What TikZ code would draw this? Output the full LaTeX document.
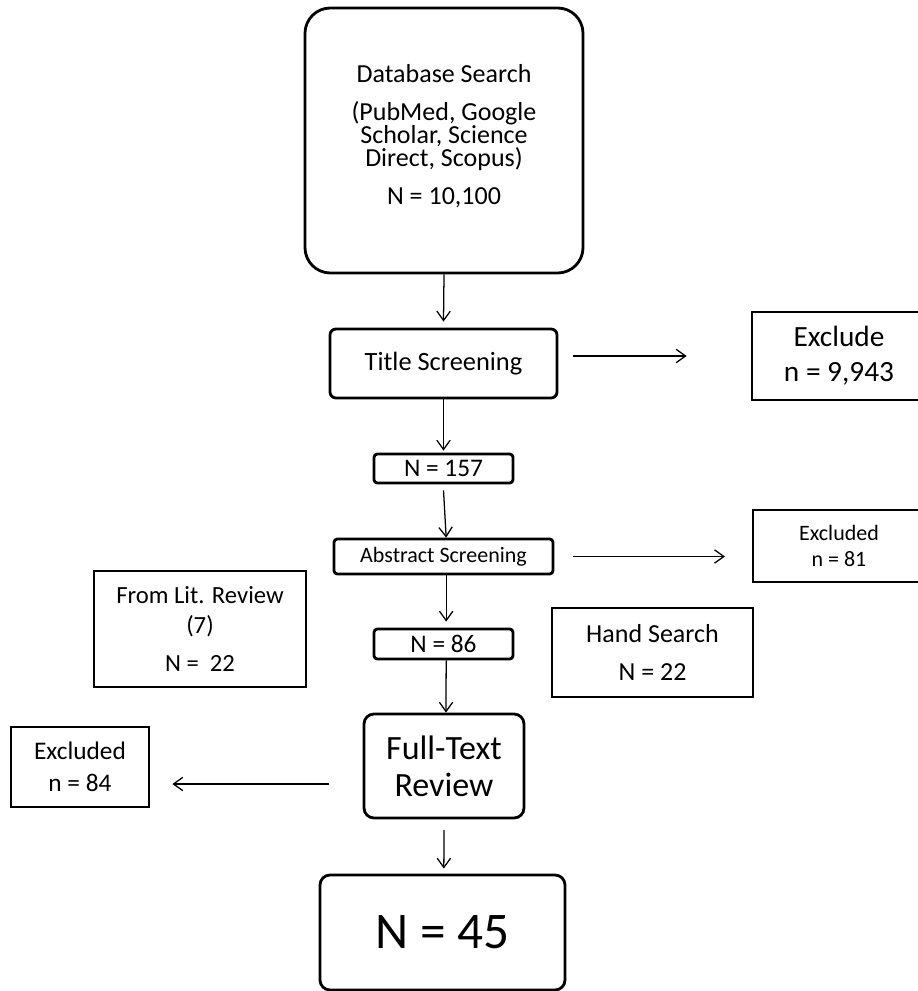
\documentclass[tikz,border=0pt]{standalone}
\usepackage{fontspec}
\setmainfont{Carlito}
\usetikzlibrary{arrows.meta}
\newlength\px
\setlength\px{0.75pt}
\newcommand\fsz[2]{\fontsize{#1pt}{#2pt}\selectfont}
\tikzset{
  x=0.75pt, y=-0.75pt,
  rbox/.style={draw, line width=2.1pt, align=center, inner sep=0pt},
  sbox/.style={draw, line width=2.1pt, align=center, inner sep=0pt},
  arr/.style={-{Straight Barb[length=7pt,width=10pt]}, line width=0.95pt},
}
\begin{document}
\begin{tikzpicture}
\useasboundingbox (0,0) rectangle (917,991);

\node[rbox, rounded corners=19pt, minimum width=278\px, minimum height=265\px, font=\fsz{19.5}{17.6}, text depth=9pt] (db) at (444,140.5)
  {Database Search\\[10.5pt](PubMed, Google\\Scholar, Science\\Direct, Scopus)\\[10.5pt]N = 10,100};

\node[rbox, rounded corners=4.5pt, minimum width=227\px, minimum height=69\px, font=\fsz{19.8}{22}] (title) at (443.5,363.5) {Title Screening};

\node[sbox, minimum width=174\px, minimum height=88\px, font=\fsz{22}{26}] (exclude) at (839,356) {Exclude\\n = 9,943};

\node[rbox, rounded corners=2.5pt, minimum width=139\px, minimum height=29\px, font=\fsz{19}{22}] (n157) at (443.5,468.5) {N = 157};

\node[rbox, rounded corners=2.5pt, minimum width=219\px, minimum height=35\px, font=\fsz{16.5}{20}] (abstract) at (443.5,556.5) {Abstract Screening};

\node[sbox, minimum width=172\px, minimum height=72\px, font=\fsz{16.5}{20}] (excl81) at (839,546) {Excluded\\n = 81};

\node[sbox, minimum width=212\px, minimum height=116\px, font=\fsz{18.5}{22.5}] (lit) at (200,629) {From Lit. Review\\(7)\\[6pt]N =\ \ 22};

\node[rbox, rounded corners=2.5pt, minimum width=139\px, minimum height=30\px, font=\fsz{19}{20}] (n86) at (443.5,644) {N = 86};

\node[sbox, minimum width=201\px, minimum height=89\px, font=\fsz{19.5}{22}] (hand) at (652.5,652.5) {Hand Search\\[6.5pt]N = 22};

\node[rbox, rounded corners=7.5pt, minimum width=160\px, minimum height=104\px, font=\fsz{25.5}{27.5}] (full) at (444,766) {Full-Text\\Review};

\node[sbox, minimum width=138\px, minimum height=80\px, font=\fsz{19}{24}] (excl84) at (80,767) {Excluded\\n = 84};

\node[rbox, rounded corners=7.5pt, minimum width=245\px, minimum height=115\px, font=\fsz{38.5}{40}] (n45) at (442.5,932.5) {N = 45};

\draw[arr] (db.south) -- ([yshift=4.5pt]title.north);
\draw[arr] ([xshift=11.25pt]title.east |- exclude.west) -- ([xshift=-48pt]exclude.west);
\draw[arr] (title.south) -- ([yshift=1.5pt]n157.north);
\draw[arr] ([yshift=-4.5pt]n157.south) -- ([xshift=2pt]abstract.north);
\draw[arr] ([xshift=14pt]abstract.east) -- ([xshift=-20pt]abstract.east -| excl81.west);
\draw[arr] ([xshift=2pt]abstract.south) -- ([xshift=2pt,yshift=4.5pt]n86.north);
\draw[arr] ([xshift=2pt]n86.south) -- ([xshift=1.5pt]full.north);
\draw[arr] ([xshift=-25pt,yshift=-13.5pt]full.west) -- ([xshift=16.5pt,yshift=-13.5pt]full.west -| excl84.east);
\draw[arr] ([yshift=-8pt]full.south) -- ([xshift=1pt,yshift=3.75pt]n45.north);
\end{tikzpicture}
\end{document}
